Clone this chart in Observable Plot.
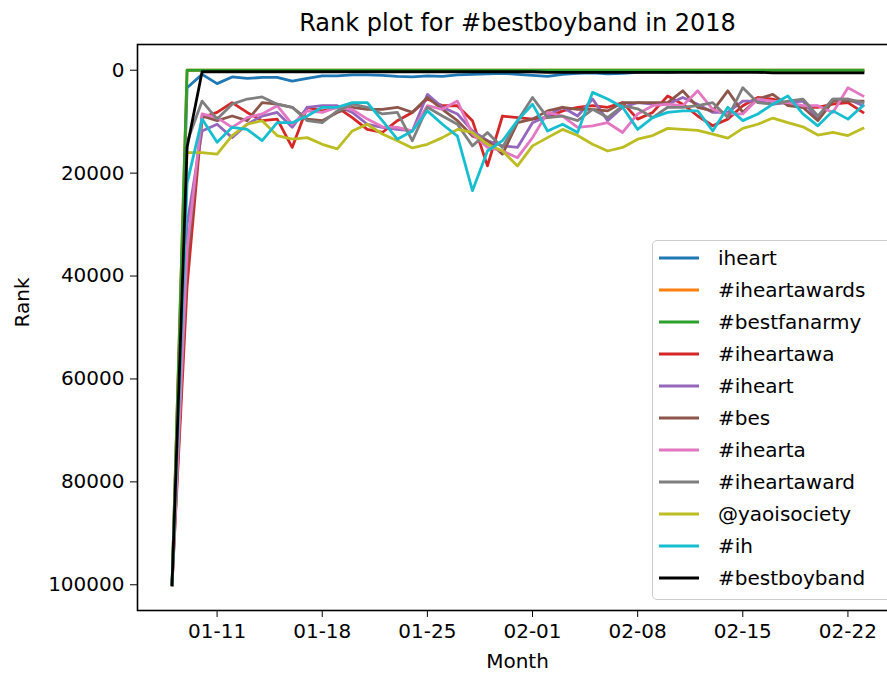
<!DOCTYPE html>
<html>
<head>
<meta charset="utf-8">
<script src="https://cdn.jsdelivr.net/npm/d3@7"></script>
<script src="https://cdn.jsdelivr.net/npm/@observablehq/plot@0.6"></script>
<style>
  body { margin: 0; background: #fff; }
  #wrap { position: relative; width: 887px; height: 677px; overflow: hidden; font-family: "DejaVu Sans", sans-serif; background: #fff; }
  #wrap > svg { position: absolute; left: 0; top: 0; }
  #legend { position: absolute; left: 652px; top: 240px; width: 240px; height: 360px; box-sizing: border-box;
            border: 1px solid #cccccc; border-radius: 5px; background: rgba(255,255,255,0.8); }
  #legend .row { position: absolute; left: 0; height: 32px; display: flex; align-items: center; white-space: nowrap;
         font-size: 20px; color: #000; }
  #legend .row svg { position: static; display: block; margin-left: 5px; margin-right: 18px; flex: none; }
</style>
</head>
<body>
<div id="wrap"></div>
<script>
// ---- data -------------------------------------------------------------
const startDate = "2018-01-08";
const endDate = "2018-02-23";

const seriesNames = ["iheart", "#iheartawards", "#bestfanarmy", "#iheartawa", "#iheart", "#bes",
                     "#ihearta", "#iheartaward", "@yaoisociety", "#ih", "#bestboyband"];
const seriesColors = ["#1f77b4", "#ff7f0e", "#2ca02c", "#d62728", "#9467bd", "#8c564b",
                      "#e377c2", "#7f7f7f", "#bcbd22", "#17becf", "#000000"];

const iheart = [100000, 3400, 800, 2600, 1300, 1600, 1400, 1400, 2100, 1600, 1100, 1100, 900, 900, 1000,
  1200, 1300, 1100, 1200, 900, 800, 700, 600, 800, 1000, 1200, 800, 600, 500, 700, 600, 400, 300, 400, 200,
  300, 200, 300, 200, 300, 200, 300, 200, 300, 200, 300, 200];
const iheartawards = [100000, 0, 0, 0, 0, 0, 0, 0, 0, 0, 0, 0, 0, 0, 0, 0, 0, 0, 0, 0, 0, 0, 0, 0, 0, 0, 0,
  0, 0, 0, 0, 0, 0, 0, 0, 0, 0, 0, 0, 0, 0, 0, 0, 0, 0, 0, 0];
const bestfanarmy = [100000, 0, 0, 0, 0, 0, 0, 0, 0, 0, 0, 0, 0, 0, 0, 0, 0, 0, 0, 0, 0, 0, 0, 0, 0, 0, 0,
  0, 0, 0, 0, 0, 0, 0, 0, 0, 0, 0, 0, 0, 0, 0, 0, 0, 0, 0, 0];
const iheartawa = [100000, 42000, 9200, 8200, 6300, 8200, 9800, 9500, 15000, 7200, 7900, 7200, 9200, 11500, 12100,
  9800, 8200, 5600, 6900, 6900, 9800, 18600, 8900, 9200, 9500, 9200, 7900, 7200, 6900, 7200, 6300,
  9500, 8200, 5000, 6600, 8900, 10800, 9500, 6900, 5300, 5600, 6600, 7200, 7200, 6600, 6300, 8200];
const iheartTag = [100000, 30000, 11800, 10500, 13100, 10500, 8900, 8200, 11100, 7200, 6900, 6900, 8200, 10500, 11100,
  11500, 11800, 4700, 7200, 8500, 11800, 13700, 14700, 15000, 10200, 8900, 7200, 8900, 5600, 9800, 7200,
  6300, 6600, 6600, 5300, 6600, 8200, 8200, 6000, 6000, 6600, 6300, 6000, 9500, 5600, 5600, 6900];
const bes = [100000, 38000, 8900, 9800, 8900, 9800, 6300, 6600, 7200, 9500, 9800, 8200, 7200, 7600, 7600,
  7200, 8200, 5300, 7600, 9800, 12800, 13700, 16300, 10200, 9500, 7900, 7200, 7600, 7600, 7900, 6300,
  6300, 6300, 6300, 4000, 7200, 7900, 4000, 8200, 5600, 4700, 6900, 7200, 9800, 6000, 6000, 6000];
const ihearta = [100000, 35000, 8500, 9200, 11100, 9200, 8500, 6900, 10500, 7900, 8200, 7200, 7600, 9500, 11000,
  11100, 11800, 6900, 7600, 6000, 12400, 15000, 15700, 17000, 13100, 8200, 8900, 11100, 10800, 10200, 12100,
  8500, 6900, 6600, 6900, 4000, 7600, 8500, 8500, 5600, 6000, 6300, 6900, 6900, 8200, 3400, 5000];
const iheartaward = [100000, 14000, 6000, 9500, 6600, 5600, 5200, 6600, 7200, 9800, 10200, 7900, 6600, 7200, 8500,
  8200, 13700, 7200, 8900, 10500, 14700, 12100, 15000, 9800, 5300, 9200, 8900, 9800, 7600, 9200, 6900,
  7500, 9200, 7200, 7200, 6900, 6300, 9200, 3400, 6300, 6600, 6000, 5600, 8900, 5600, 5600, 6300];
const yaoisociety = [100000, 16000, 16000, 16300, 12700, 10500, 9800, 12700, 13400, 13100, 14400, 15300, 11800, 10500, 12400,
  13700, 15100, 14400, 13100, 11500, 12100, 14400, 15700, 18600, 14700, 13100, 11500, 12700, 14400, 15700, 15000,
  13400, 12700, 11300, 11500, 11700, 12400, 13200, 11300, 10500, 9300, 10200, 11000, 12600, 12100, 12700, 11300];
const ih = [100000, 22000, 9500, 14000, 11100, 11500, 13700, 10200, 10200, 8900, 7200, 7200, 6300, 6300, 9800,
  13400, 11800, 7900, 10500, 12800, 23400, 15700, 13700, 9800, 6600, 11800, 10500, 12100, 4300, 5600, 7200,
  11500, 9200, 8200, 7900, 7900, 11800, 7200, 9800, 8500, 6600, 5000, 8500, 10800, 7900, 9500, 6900];
const bestboyband = [100000, 15000, 300, 300, 300, 300, 300, 300, 300, 300, 300, 300, 300, 300, 300, 300, 300,
  300, 300, 300, 300, 300, 300, 300, 300, 400, 400, 400, 400, 400, 400, 400, 400, 400, 400, 400, 400, 400,
  400, 400, 500, 500, 500, 500, 500, 500, 500];

const seriesValues = [iheart, iheartawards, bestfanarmy, iheartawa, iheartTag, bes,
                      ihearta, iheartaward, yaoisociety, ih, bestboyband];

const xTickLabels = ["2018-01-11", "2018-01-18", "2018-01-25", "2018-02-01", "2018-02-08", "2018-02-15", "2018-02-22"];
const yTicks = [0, 20000, 40000, 60000, 80000, 100000];

const titleText = "Rank plot for #bestboyband in 2018";
const xLabel = "Month";
const yLabel = "Rank";

// ---- build ------------------------------------------------------------
const parse = d3.utcParse("%Y-%m-%d");
const dates = d3.utcDay.range(parse(startDate), d3.utcDay.offset(parse(endDate), 1));
const rows = [];
seriesNames.forEach((name, i) => {
  seriesValues[i].forEach((v, j) => rows.push({series: name, date: dates[j], rank: v}));
});

// matplotlib-like 5% margins on the data extent
const t0 = dates[0], t1 = dates[dates.length - 1];
const span = t1 - t0;
const xDomain = [new Date(+t0 - 0.05 * span), new Date(+t1 + 0.05 * span)];

const chart = Plot.plot({
  width: 887,
  height: 677,
  marginLeft: 137,
  marginRight: -10,
  marginTop: 44,
  marginBottom: 67,
  style: {fontFamily: "DejaVu Sans", fontSize: "20px", color: "#000", background: "transparent", overflow: "visible"},
  x: {type: "utc", domain: xDomain, ticks: xTickLabels.map(parse), tickFormat: d3.utcFormat("%m-%d"),
      tickSize: 7, tickPadding: 6, label: null},
  y: {domain: [-5000, 105000], reverse: true, ticks: yTicks, tickFormat: "d", tickSize: 7, tickPadding: 6, label: null},
  color: {domain: seriesNames, range: seriesColors},
  marks: [
    Plot.line(rows, {x: "date", y: "rank", z: "series", stroke: "series", strokeWidth: 2.8,
                     strokeLinejoin: "round", strokeLinecap: "square"}),
    Plot.frame({stroke: "#000", strokeWidth: 1.6}),
    Plot.text([titleText], {text: d => d, frameAnchor: "top", dy: -31, fontSize: 24}),
    Plot.text([xLabel], {text: d => d, frameAnchor: "bottom", dy: 57, fontSize: 20}),
    Plot.text([yLabel], {text: d => d, frameAnchor: "left", dx: -115, rotate: -90, fontSize: 20})
  ]
});

const wrap = document.getElementById("wrap");
wrap.appendChild(chart);

// legend (matplotlib-style box inside the axes)
const legend = document.createElement("div");
legend.id = "legend";
seriesNames.forEach((name, i) => {
  const row = document.createElement("div");
  row.className = "row";
  row.style.top = (0.7 + 32.06 * i) + "px";
  row.innerHTML = `<svg width="42" height="6"><line x1="1" y1="3" x2="41" y2="3" stroke="${seriesColors[i]}" stroke-width="3"/></svg><span></span>`;
  row.querySelector("span").textContent = name;
  legend.appendChild(row);
});
wrap.appendChild(legend);
</script>
</body>
</html>
